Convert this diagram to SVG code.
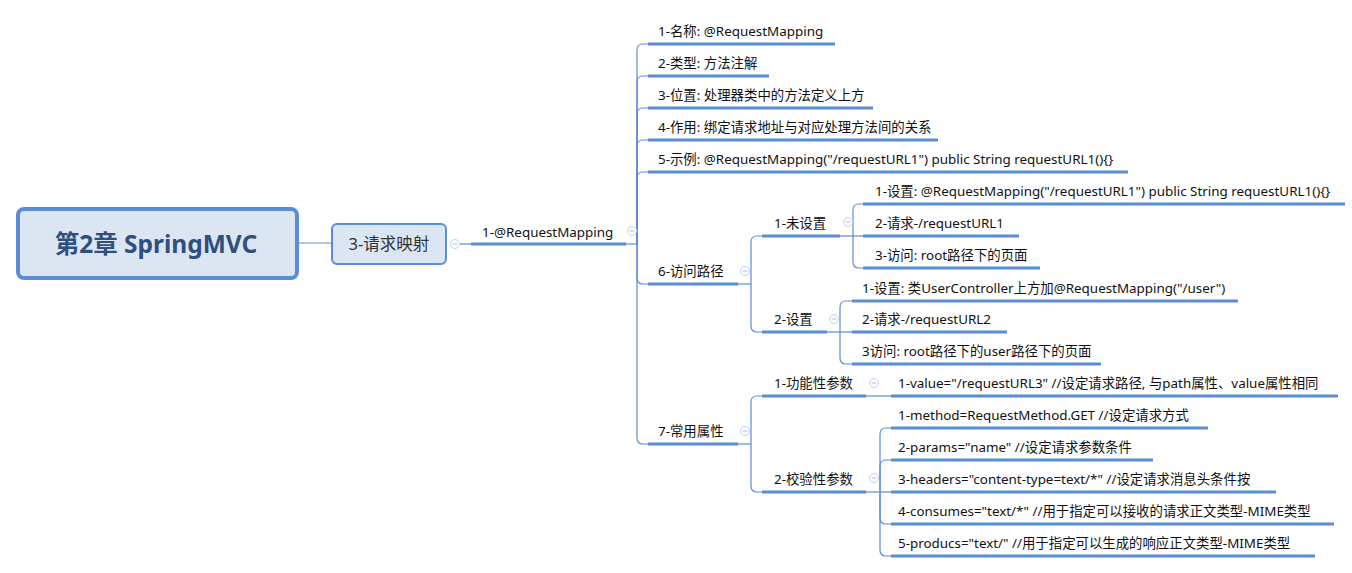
<svg xmlns="http://www.w3.org/2000/svg" width="1352" height="573" viewBox="0 0 1352 573">
<defs>
<style>
text{font-family:"Noto Sans","Noto Sans CJK SC",sans-serif;font-size:13.4px;fill:#111}
.u{stroke:#5b8dd5;stroke-width:3;fill:none}
.c{stroke:#5b8dd5;stroke-width:1.2;fill:none}
.t{stroke:#c3d1ea;stroke-width:1;fill:#fff}
.m{stroke:#a9bcdf;stroke-width:1}
</style>
<g id="tog"><circle class="t" r="4.5"/><line class="m" x1="-2.5" y1="0" x2="2.5" y2="0"/></g>
</defs>
<rect width="1352" height="573" fill="#fff"/>
<g id="connectors">
<path class="c" d="M297,243 H332"/>
<path class="c" d="M460,244 H471"/>
<path class="c" d="M626,244 H637"/>
<path class="c" d="M637,244 V50 Q637,44 643,44 H648"/>
<path class="c" d="M637,244 V82 Q637,76 643,76 H648"/>
<path class="c" d="M637,244 V114 Q637,108 643,108 H648"/>
<path class="c" d="M637,244 V146 Q637,140 643,140 H648"/>
<path class="c" d="M637,244 V178 Q637,172 643,172 H648"/>
<path class="c" d="M637,244 V278 Q637,284 643,284 H648"/>
<path class="c" d="M637,244 V438 Q637,444 643,444 H648"/>
<path class="c" d="M738,284 H751"/>
<path class="c" d="M751,284 V242 Q751,236 757,236 H762"/>
<path class="c" d="M751,284 V326 Q751,332 757,332 H762"/>
<path class="c" d="M840,236 H863"/>
<path class="c" d="M853,236 V210 Q853,204 859,204 H863"/>
<path class="c" d="M853,236 V262 Q853,268 859,268 H863"/>
<path class="c" d="M827,332 H852"/>
<path class="c" d="M840,332 V307 Q840,301 846,301 H852"/>
<path class="c" d="M840,332 V358 Q840,364 846,364 H852"/>
<path class="c" d="M738,444 H751"/>
<path class="c" d="M751,444 V402 Q751,396 757,396 H762"/>
<path class="c" d="M751,444 V486 Q751,492 757,492 H762"/>
<path class="c" d="M866,396 H891"/>
<path class="c" d="M866,492 H891"/>
<path class="c" d="M880,492 V434 Q880,428 886,428 H891"/>
<path class="c" d="M880,492 V466 Q880,460 886,460 H891"/>
<path class="c" d="M880,492 V518 Q880,524 886,524 H891"/>
<path class="c" d="M880,492 V550 Q880,556 886,556 H891"/>
</g>
<g id="root">
<rect x="18" y="209" width="279" height="69" rx="6" fill="#dce6f2" stroke="#5b8dd5" stroke-width="4"/>
<text x="156" y="253" text-anchor="middle" style="font-size:24.5px;font-weight:bold;fill:#2f4f7f">第2章 SpringMVC</text>
</g>
<g id="n-3">
<rect x="332" y="224" width="114" height="40" rx="5" fill="#dce6f2" stroke="#5b8dd5" stroke-width="2"/>
<text x="389" y="250" text-anchor="middle" style="font-size:16.5px;fill:#333">3-请求映射</text>
<use href="#tog" x="455" y="244"/>
</g>
<g id="n-rm">
<text x="482" y="237">1-@RequestMapping</text>
<path class="u" d="M471,244 H626"/>
<use href="#tog" x="632" y="231"/>
</g>
<g id="n-1"><text x="658" y="36">1-名称: @RequestMapping</text><path class="u" d="M648,44 H835"/></g>
<g id="n-2"><text x="658" y="68">2-类型: 方法注解</text><path class="u" d="M648,76 H769"/></g>
<g id="n-3p"><text x="658" y="100">3-位置: 处理器类中的方法定义上方</text><path class="u" d="M648,108 H873"/></g>
<g id="n-4"><text x="658" y="132">4-作用: 绑定请求地址与对应处理方法间的关系</text><path class="u" d="M648,140 H938"/></g>
<g id="n-5"><text x="658" y="164">5-示例: @RequestMapping("/requestURL1") public String requestURL1(){}</text><path class="u" d="M648,172 H1128"/></g>
<g id="n-6"><text x="658" y="276">6-访问路径</text><path class="u" d="M648,284 H738"/><use href="#tog" x="745" y="271"/></g>
<g id="n-6-1"><text x="774" y="228">1-未设置</text><path class="u" d="M762,236 H840"/><use href="#tog" x="848" y="222"/></g>
<g id="n-6-1-1"><text x="875" y="196">1-设置: @RequestMapping("/requestURL1") public String requestURL1(){}</text><path class="u" d="M863,204 H1345"/></g>
<g id="n-6-1-2"><text x="875" y="228">2-请求-/requestURL1</text><path class="u" d="M863,236 H1019"/></g>
<g id="n-6-1-3"><text x="875" y="260">3-访问: root路径下的页面</text><path class="u" d="M863,268 H1040"/></g>
<g id="n-6-2"><text x="774" y="324">2-设置</text><path class="u" d="M762,332 H827"/><use href="#tog" x="834" y="319"/></g>
<g id="n-6-2-1"><text x="862" y="293">1-设置: 类UserController上方加@RequestMapping("/user")</text><path class="u" d="M852,301 H1238"/></g>
<g id="n-6-2-2"><text x="862" y="324">2-请求-/requestURL2</text><path class="u" d="M852,332 H1007"/></g>
<g id="n-6-2-3"><text x="862" y="356">3访问: root路径下的user路径下的页面</text><path class="u" d="M852,364 H1101"/></g>
<g id="n-7"><text x="658" y="436">7-常用属性</text><path class="u" d="M648,444 H738"/><use href="#tog" x="745" y="431"/></g>
<g id="n-7-1"><text x="774" y="388">1-功能性参数</text><path class="u" d="M762,396 H866"/><use href="#tog" x="874" y="383"/></g>
<g id="n-7-1-1"><text x="898" y="388">1-value="/requestURL3" //设定请求路径, 与path属性、value属性相同</text><path class="u" d="M891,396 H1338"/></g>
<g id="n-7-2"><text x="774" y="484">2-校验性参数</text><path class="u" d="M762,492 H866"/><use href="#tog" x="874" y="478"/></g>
<g id="n-7-2-1"><text x="898" y="420">1-method=RequestMethod.GET //设定请求方式</text><path class="u" d="M891,428 H1208"/></g>
<g id="n-7-2-2"><text x="898" y="452">2-params="name" //设定请求参数条件</text><path class="u" d="M891,460 H1153"/></g>
<g id="n-7-2-3"><text x="898" y="484">3-headers="content-type=text/*" //设定请求消息头条件按</text><path class="u" d="M891,492 H1276"/></g>
<g id="n-7-2-4"><text x="898" y="516">4-consumes="text/*" //用于指定可以接收的请求正文类型-MIME类型</text><path class="u" d="M891,524 H1334"/></g>
<g id="n-7-2-5"><text x="898" y="548">5-producs="text/" //用于指定可以生成的响应正文类型-MIME类型</text><path class="u" d="M891,556 H1315"/></g>
</svg>
